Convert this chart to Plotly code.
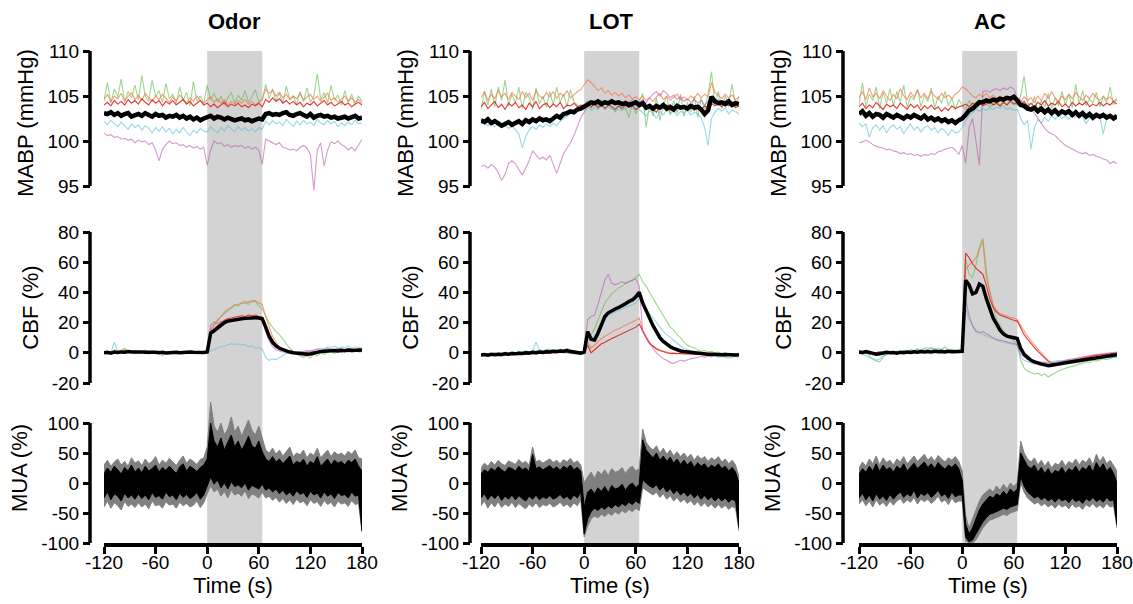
import plotly.graph_objects as go

# time grid (s)
T = list(range(-120, 181, 4))
X_TICKS = [-120, -60, 0, 60, 120, 180]
TITLES = ["Odor", "LOT", "AC"]
STIM_ON, STIM_OFF = 0, 64

# ---------------- Odor ----------------
odor_mabp_mean = [103.1,103.0,103.2,102.9,103.1,102.8,103.0,103.1,102.7,102.9,
                  103.0,102.8,103.1,102.9,102.7,103.0,102.8,102.9,102.6,102.8,
                  102.7,102.9,102.6,102.8,102.5,102.7,102.4,102.6,102.3,102.5,
                  102.6,102.8,102.5,102.7,102.6,102.4,102.6,102.5,102.3,102.4,
                  102.5,102.3,102.4,102.2,102.3,102.5,102.4,103.0,103.1,102.9,
                  103.0,102.9,103.1,103.2,102.9,102.8,103.0,103.1,102.9,102.7,
                  103.0,102.6,102.8,102.9,102.7,102.8,102.6,102.7,102.5,102.6,
                  102.7,102.5,102.6,102.8,102.5,102.6]
odor_mabp_red = [104.0,104.3,103.9,104.5,104.1,104.4,104.0,104.6,104.2,104.5,
                 104.1,104.7,104.3,104.0,104.6,104.2,104.5,103.9,104.4,104.1,
                 104.5,104.0,104.3,104.6,104.1,104.4,103.9,104.2,104.5,104.0,
                 104.2,103.8,104.1,103.7,104.0,104.3,103.8,104.1,103.9,104.2,
                 103.8,104.0,103.7,104.1,103.9,104.2,103.8,104.6,104.3,104.8,
                 104.4,104.7,104.2,104.5,104.1,104.4,104.0,104.3,103.8,104.2,
                 104.0,104.4,103.9,104.2,104.5,104.0,104.3,103.9,104.1,104.4,
                 104.0,104.2,103.8,104.1,104.3,104.0]
odor_mabp_orange = [104.6,105.2,104.4,105.0,104.7,105.3,104.5,104.9,105.4,104.6,
                    105.1,104.5,105.3,104.8,104.4,105.0,104.6,105.2,104.7,104.3,
                    104.9,104.5,105.1,104.6,104.2,104.8,104.4,105.0,104.5,104.2,
                    104.5,104.9,104.3,104.7,104.2,104.6,104.0,104.4,104.1,104.5,
                    104.2,104.6,104.1,104.4,104.0,104.3,104.6,105.8,105.3,105.6,
                    105.0,105.4,104.8,105.2,104.6,105.0,104.7,105.3,104.5,104.9,
                    105.2,104.6,105.0,104.4,104.9,105.3,104.5,104.8,104.3,104.7,
                    105.0,104.4,104.8,104.3,104.6,104.2]
odor_mabp_green = [104.5,106.5,104.2,105.8,104.9,106.9,104.3,105.5,104.8,106.2,
                   104.6,107.3,105.0,104.4,106.8,104.9,105.6,104.3,106.4,104.7,
                   105.2,104.1,106.0,104.5,105.4,103.9,106.6,104.4,105.0,104.2,
                   106.2,104.6,105.3,104.3,105.0,104.0,104.8,105.4,104.2,105.1,
                   104.5,105.6,104.3,104.9,105.7,104.4,104.6,106.3,104.7,105.8,
                   104.5,105.3,104.2,106.1,104.6,105.0,104.1,105.5,104.4,105.9,
                   104.3,105.0,107.5,104.6,105.4,104.2,106.2,104.5,105.1,104.0,
                   105.6,104.3,105.2,104.0,105.0,104.4]
odor_mabp_cyan = [102.2,101.8,102.3,101.9,101.6,102.1,101.7,101.3,101.9,101.5,
                  101.8,101.2,101.7,101.4,100.9,101.5,101.1,101.6,101.0,101.4,
                  100.8,101.3,100.9,101.5,101.0,100.6,101.2,100.9,101.4,101.1,
                  101.0,101.6,101.2,100.9,101.5,101.1,101.7,101.3,101.0,101.6,
                  101.2,101.5,101.1,101.4,101.0,101.5,101.3,102.2,101.8,102.3,
                  101.9,102.1,101.7,102.4,102.0,101.6,102.2,101.8,102.3,101.9,
                  102.1,101.7,102.4,102.0,101.8,102.3,101.9,102.2,101.6,102.0,
                  101.7,102.1,101.8,102.3,101.9,102.0]
odor_mabp_pink = [100.9,100.6,100.7,100.4,100.5,100.2,100.3,100.1,100.2,99.8,
                  100.1,99.9,100.0,99.6,99.8,99.0,97.8,99.1,99.6,100.0,
                  99.7,99.8,99.5,99.6,99.3,99.5,99.2,99.4,99.1,99.3,
                  97.3,99.0,100.0,99.7,99.8,99.4,99.6,99.3,99.5,99.4,
                  99.5,99.2,99.4,99.1,99.3,99.0,97.4,100.2,100.0,99.8,
                  99.6,99.8,99.3,99.2,99.0,99.1,98.9,99.3,99.5,99.2,
                  98.5,94.5,99.0,99.8,97.2,99.0,99.9,99.7,100.0,99.6,
                  99.4,99.0,99.3,98.9,99.6,100.2]

odor_cbf_mean = [0.0,0.3,-0.2,0.5,0.2,0.6,0.4,0.8,0.5,0.7,
                 0.4,0.6,0.3,0.5,0.2,0.4,0.0,0.3,-0.1,0.2,
                 0.0,0.3,0.1,0.4,0.2,0.5,0.3,0.1,0.4,0.2,
                 0.5,13.0,14.5,16.5,18.5,20.0,21.0,21.5,22.0,22.3,
                 22.5,22.8,23.0,22.7,23.2,23.0,22.5,17.0,11.0,7.0,
                 4.5,3.0,2.0,1.2,0.5,0.0,-0.3,-0.5,-0.8,-1.0,
                 -0.8,-0.5,0.3,0.8,1.0,1.3,1.0,1.5,1.2,1.6,
                 1.4,1.8,1.5,1.7,2.0,1.8]
odor_cbf_orange = [0.5,-0.5,1.0,0.0,1.5,0.5,2.0,1.0,0.5,1.5,
                   0.0,1.0,-0.5,0.5,1.0,0.0,0.5,-0.5,0.5,0.0,
                   0.5,-0.5,0.5,0.0,1.0,0.0,-0.5,0.5,0.0,0.5,
                   1.0,15.0,18.0,21.0,24.0,26.0,28.0,30.0,31.5,32.0,
                   33.0,32.5,34.0,33.5,34.5,33.0,32.0,24.0,17.0,11.0,
                   7.0,4.0,2.5,1.5,0.5,0.0,-0.5,0.5,-1.0,0.0,
                   -0.5,0.5,1.0,0.0,1.5,0.5,1.0,2.0,0.5,1.5,
                   1.0,2.0,0.5,1.5,1.0,0.5]
odor_cbf_green = [0.0,1.0,-0.5,2.0,0.5,1.5,3.0,0.5,1.5,-0.5,
                  1.0,0.0,2.0,-1.0,0.5,-0.5,1.0,-2.0,0.0,0.5,
                  -0.5,1.0,0.0,0.5,-0.5,1.0,0.0,-0.5,0.5,0.0,
                  1.0,15.0,19.0,22.0,24.0,27.0,29.0,30.0,32.0,31.0,
                  33.0,34.0,32.0,35.0,34.0,31.0,29.0,24.0,20.0,17.0,
                  14.0,12.0,9.0,6.0,3.0,1.0,-1.0,-2.0,-3.0,-2.0,
                  -3.5,-1.0,-2.0,0.0,-1.0,0.5,1.0,-0.5,1.0,0.0,
                  1.5,0.5,1.0,2.0,0.5,1.0]
odor_cbf_red = [0.3,0.8,0.0,1.0,0.5,0.2,1.0,0.6,0.3,0.8,
                0.5,0.2,0.7,0.0,0.4,0.8,0.2,0.5,0.0,0.3,
                0.6,0.1,0.4,0.0,0.5,0.2,0.6,0.0,0.3,0.5,
                1.0,14.0,16.0,18.0,20.0,21.5,22.5,23.0,23.5,24.0,
                24.5,24.0,25.0,24.5,25.0,24.0,23.5,16.0,10.0,6.0,
                4.0,2.5,1.5,1.0,0.5,0.0,0.2,-0.3,0.0,0.3,
                0.5,0.8,1.0,0.6,1.2,0.9,1.5,1.0,1.3,1.8,
                1.5,2.0,1.6,1.9,2.2,1.7]
odor_cbf_pink = [0.0,0.5,0.2,0.6,0.3,0.8,0.5,0.2,0.6,0.4,
                 0.1,0.5,0.3,0.0,0.4,0.2,0.6,0.3,0.0,0.4,
                 0.2,0.5,0.0,0.3,0.6,0.2,0.4,0.0,0.3,0.5,
                 1.0,18.0,20.5,19.0,21.0,20.0,22.0,21.5,22.5,22.0,
                 23.0,22.5,23.5,22.0,23.0,22.5,22.0,14.0,8.0,4.0,
                 2.0,1.0,0.5,0.0,0.3,-0.2,0.0,0.5,1.0,1.5,
                 1.0,2.0,2.5,1.5,2.0,3.0,2.5,2.0,3.0,2.5,
                 2.0,3.0,2.5,2.0,2.8,2.2]
odor_cbf_cyan = [0.5,-1.0,0.0,7.0,0.5,-0.5,1.0,0.0,0.5,-0.5,
                 0.0,0.5,-0.5,1.0,0.0,0.5,-0.5,0.0,0.5,0.0,
                 -0.5,0.5,0.0,0.5,-0.5,0.0,0.5,-0.5,0.0,0.5,
                 0.5,1.5,2.5,3.0,4.0,4.5,5.0,6.0,5.5,6.0,
                 5.0,5.5,4.0,4.5,3.0,3.5,2.5,-3.0,-5.0,-4.0,
                 -4.5,-3.0,-1.5,-0.5,0.0,0.5,0.0,1.0,0.5,1.0,
                 1.5,2.0,2.5,3.0,2.5,4.0,3.5,4.5,3.0,4.0,
                 3.5,4.5,3.0,4.0,3.5,3.0]

odor_mua_sem_hi = [30,38,28,35,40,30,36,28,42,33,
                   37,29,40,32,36,44,30,38,33,41,
                   35,29,38,45,33,40,36,31,39,42,
                   60,135,95,85,100,80,90,110,85,95,
                   78,92,105,88,80,95,75,55,50,58,
                   48,55,45,52,60,44,50,47,55,42,
                   50,46,58,42,48,55,44,52,47,50,
                   45,53,48,55,42,40]
odor_mua_mean_hi = [15,25,18,28,22,15,26,20,30,18,
                    25,17,28,20,24,30,18,26,21,28,
                    22,16,27,32,20,28,24,19,26,30,
                    40,100,70,60,75,55,68,80,60,70,
                    55,65,78,62,58,70,52,40,36,44,
                    35,40,32,38,45,30,36,33,40,28,
                    36,32,44,28,34,40,30,38,33,36,
                    30,38,34,40,28,20]
odor_mua_mean_lo = [-25,-15,-28,-18,-22,-30,-17,-25,-20,-27,
                    -18,-26,-20,-28,-16,-24,-21,-27,-15,-23,
                    -20,-28,-17,-24,-19,-26,-22,-16,-27,-20,
                    -5,10,-2,5,-8,0,-10,2,-6,-3,
                    -8,0,-12,-4,-7,-10,-2,-12,-8,-15,
                    -10,-18,-12,-20,-15,-22,-13,-19,-16,-24,
                    -14,-20,-17,-25,-15,-22,-18,-26,-16,-21,
                    -19,-25,-15,-22,-20,-80]
odor_mua_sem_lo = [-40,-30,-42,-33,-38,-45,-31,-39,-35,-41,
                   -33,-40,-35,-43,-30,-38,-36,-42,-31,-37,
                   -35,-42,-32,-38,-34,-40,-37,-30,-41,-33,
                   -18,-5,-15,-10,-22,-14,-25,-12,-20,-17,
                   -22,-13,-26,-18,-21,-25,-15,-25,-22,-29,
                   -24,-32,-26,-34,-28,-36,-27,-33,-30,-38,
                   -28,-34,-31,-39,-29,-36,-32,-40,-30,-35,
                   -33,-39,-29,-36,-34,-82]

# ---------------- LOT ----------------
lot_mabp_mean = [102.3,102.1,102.4,102.0,102.2,101.9,101.7,101.9,102.1,101.8,
                 102.0,102.2,101.9,102.3,102.1,102.4,102.2,102.5,102.3,102.4,
                 102.2,102.5,102.8,102.6,103.0,103.1,103.3,103.2,103.5,103.6,
                 103.8,104.0,104.3,104.2,104.4,104.1,104.3,104.2,104.4,104.2,
                 104.3,104.1,104.2,104.0,104.2,104.3,104.0,104.2,103.7,103.9,
                 103.6,103.9,103.7,104.0,103.6,103.8,103.5,103.9,103.7,103.8,
                 103.6,103.9,103.7,103.8,103.5,103.0,103.4,104.9,104.4,104.2,
                 104.3,104.1,104.4,104.0,104.2,104.1]
lot_mabp_orange = [104.8,105.5,104.5,105.2,104.7,105.6,104.9,105.3,104.6,105.4,
                   105.0,104.6,105.5,104.8,105.3,104.5,105.6,105.0,104.7,105.4,
                   104.9,105.5,104.7,105.3,105.0,105.6,104.8,105.2,105.5,105.7,
                   106.2,106.8,106.5,106.0,105.6,105.9,105.3,105.6,105.1,105.4,
                   105.0,105.3,104.8,105.1,104.7,104.9,104.6,105.0,104.5,104.8,
                   104.4,104.9,105.3,104.6,105.0,104.5,104.8,105.2,104.6,104.9,
                   104.5,105.0,104.7,105.3,104.8,105.2,104.9,106.5,105.4,105.0,
                   104.7,105.2,104.8,105.1,104.6,104.9]
lot_mabp_red = [103.8,104.3,103.6,104.0,104.4,103.7,104.1,103.5,104.2,103.9,
                104.3,103.7,104.0,103.5,104.2,103.8,104.4,103.6,104.0,104.2,
                103.7,104.1,103.8,104.3,103.6,104.0,103.9,104.2,103.8,104.0,
                103.9,104.2,103.8,104.1,103.7,104.0,103.6,104.0,103.8,103.5,
                103.9,103.6,104.0,103.7,103.9,103.5,103.8,104.0,103.6,103.9,
                103.5,103.2,103.8,103.6,104.0,103.4,103.7,103.9,103.5,103.8,
                103.6,103.9,103.4,103.8,103.5,103.9,103.7,104.2,103.9,104.1,
                103.8,104.2,103.9,104.1,103.7,103.9]
lot_mabp_green = [103.5,105.5,104.0,105.8,103.8,106.0,104.5,106.8,103.9,105.2,
                  104.2,106.0,103.6,105.4,104.8,103.5,105.9,104.1,105.0,103.7,
                  105.5,104.0,106.0,104.3,105.2,103.8,105.7,104.4,104.0,103.5,
                  103.8,104.5,103.6,104.2,103.9,104.6,103.5,104.1,103.8,103.2,
                  104.0,103.4,103.7,102.6,104.1,103.0,104.4,105.3,101.5,104.0,
                  102.8,104.8,102.3,104.0,105.0,102.9,104.5,103.1,105.2,102.7,
                  104.3,103.2,105.0,102.6,104.8,103.5,105.2,107.7,104.0,105.5,
                  103.6,105.0,104.2,106.3,103.8,105.0]
lot_mabp_cyan = [101.9,102.1,101.7,102.0,101.6,101.9,101.5,101.8,101.4,101.7,
                 101.3,100.8,99.2,100.5,101.2,101.6,101.3,101.8,101.5,101.9,
                 101.6,102.0,101.7,102.2,102.5,102.8,103.0,103.2,103.4,103.6,
                 103.5,103.8,103.4,103.7,103.5,103.9,103.6,103.8,103.5,103.7,
                 103.4,103.7,103.5,103.8,103.6,103.9,103.5,103.2,102.8,103.4,
                 103.1,102.5,103.3,102.9,103.5,103.0,103.4,102.8,103.3,103.1,
                 103.4,102.9,103.2,103.0,102.6,101.5,99.5,102.5,103.2,103.6,
                 103.3,103.7,103.0,103.5,103.2,103.0]
lot_mabp_pink = [97.2,97.3,97.0,97.4,97.1,96.5,95.6,96.3,97.5,97.8,
                 97.5,96.8,96.2,97.0,97.8,98.9,98.5,98.0,98.2,97.9,
                 98.4,97.5,96.4,97.5,98.6,99.2,99.8,100.6,101.5,102.6,
                 103.2,103.8,104.2,104.0,104.3,104.1,104.4,104.2,104.5,104.3,
                 104.4,104.2,104.5,104.3,104.6,104.4,104.3,104.6,104.2,104.8,
                 105.2,105.5,105.0,105.6,105.3,104.8,105.1,104.6,104.9,104.4,
                 104.7,104.3,104.6,104.2,104.5,104.0,104.4,104.8,104.3,104.6,
                 104.2,104.5,104.1,104.4,104.0,104.3]

lot_cbf_mean = [-1.5,-1.2,-1.6,-1.0,-1.3,-0.9,-1.1,-0.6,-0.9,-0.5,
                -0.7,-0.3,-0.5,0.0,-0.2,0.3,0.0,0.5,0.2,0.7,
                0.5,1.0,0.8,1.2,1.0,1.5,0.8,0.5,0.2,-0.2,
                0.5,14.0,9.0,8.5,13.0,19.0,24.0,26.5,28.0,29.0,
                30.0,31.0,32.5,34.0,35.0,37.0,40.0,33.0,28.0,22.0,
                18.0,14.0,10.0,7.5,5.5,4.0,3.0,2.0,1.2,0.8,
                0.5,0.2,0.0,-0.3,-0.5,-0.6,-0.9,-1.0,-1.2,-1.0,
                -1.3,-1.1,-1.4,-1.2,-1.5,-1.3]
lot_cbf_green = [-2.5,-1.5,-0.5,-1.0,0.0,-1.5,-2.0,-0.5,-1.0,0.0,
                 -1.0,0.5,-0.5,1.0,0.0,1.5,0.5,2.0,1.0,2.5,
                 1.5,2.0,1.0,2.5,1.5,3.0,2.0,1.0,0.5,0.0,
                 1.0,10.0,12.0,16.0,22.0,28.0,33.0,36.0,39.0,41.0,
                 43.0,44.0,46.0,47.0,48.0,50.0,52.0,47.0,44.0,40.0,
                 36.0,32.0,28.0,24.0,20.0,17.0,15.0,12.0,10.0,7.0,
                 5.0,4.0,2.5,2.0,1.0,1.5,0.5,1.0,0.0,0.5,
                 -0.5,0.0,-1.0,-0.5,-1.0,-1.5]
lot_cbf_pink = [-1.0,-1.5,-0.8,-1.2,-0.5,-1.0,-1.4,-0.6,-1.0,-0.3,
                -0.8,-0.2,-0.5,0.3,0.0,0.5,0.2,0.8,0.5,1.0,
                0.6,1.2,0.8,1.5,1.0,0.7,0.4,0.0,-0.3,-0.5,
                0.5,22.0,24.0,25.0,32.0,40.0,48.0,52.0,46.0,45.0,
                46.0,47.0,46.0,47.0,48.0,49.0,44.0,14.0,10.0,6.0,
                3.0,0.0,-2.0,-4.0,-5.0,-6.5,-7.0,-6.0,-5.0,-5.5,
                -4.5,-4.0,-3.5,-3.0,-2.5,-3.0,-2.0,-2.5,-1.5,-2.0,
                -1.5,-2.0,-1.0,-1.5,-1.0,-1.5]
lot_cbf_cyan = [-1.0,-0.5,-1.2,-0.3,-0.8,0.0,-0.5,0.5,-0.2,0.8,
                0.0,1.0,0.3,1.5,0.5,1.5,7.0,2.0,1.0,1.5,
                2.5,1.0,1.5,0.5,1.0,0.0,-0.5,-1.0,-0.5,0.0,
                0.5,10.0,9.0,11.0,15.0,19.0,22.0,25.0,26.0,27.0,
                28.0,29.0,30.0,31.0,32.0,33.0,36.0,32.0,29.0,26.0,
                23.0,20.0,17.0,14.0,12.0,10.0,8.0,6.0,4.5,3.0,
                2.0,1.0,0.5,-0.5,-1.0,-1.5,-2.0,-2.5,-2.0,-3.0,
                -2.5,-3.0,-3.5,-3.0,-2.5,-3.0]
lot_cbf_red = [-1.5,-1.0,-1.8,-1.2,-0.8,-1.5,-1.0,-1.3,-0.7,-1.1,
               -0.9,-1.2,-0.5,-0.8,-1.0,-0.4,-0.7,-0.2,-0.5,0.0,
               -0.3,0.2,-0.1,0.4,0.0,0.3,-0.2,0.1,-0.4,-0.1,
               0.5,5.0,0.0,2.0,4.0,6.0,7.0,8.5,9.5,10.5,
               11.5,12.5,13.5,14.5,15.5,17.0,19.0,14.0,10.0,6.0,
               4.0,2.5,1.5,0.5,0.0,-0.5,-0.2,-0.6,-0.3,-0.8,
               -0.5,-1.0,-0.7,-1.2,-0.9,-1.4,-1.0,-1.5,-1.2,-1.6,
               -1.3,-1.7,-1.4,-1.8,-1.5,-1.6]
lot_cbf_orange = [-1.0,-1.4,-0.6,-1.1,-0.4,-0.9,-1.2,-0.5,-0.8,-0.2,
                  -0.6,0.0,-0.4,0.2,-0.3,0.4,0.1,0.6,0.2,0.5,
                  0.1,0.6,0.3,0.8,0.4,0.6,0.2,0.0,-0.3,-0.2,
                  0.5,7.0,3.0,5.0,7.5,9.5,11.0,12.5,14.0,15.0,
                  16.0,17.0,18.0,19.0,20.0,21.5,23.0,15.0,11.0,7.0,
                  4.5,3.0,1.5,1.0,0.5,0.0,-0.5,-0.3,-0.8,-0.5,
                  -1.0,-0.6,-1.1,-0.8,-1.3,-0.9,-1.4,-1.1,-1.5,-1.2,
                  -1.6,-1.3,-1.7,-1.4,-1.2,-1.5]

lot_mua_sem_hi = [25,33,28,36,30,38,32,29,37,34,
                  31,39,33,36,30,60,35,38,33,37,
                  40,34,38,32,39,35,41,33,37,30,
                  0,10,18,8,20,14,22,12,24,18,
                  20,26,16,24,28,20,24,90,68,60,
                  55,62,50,58,48,55,45,52,44,50,
                  42,48,38,46,40,44,36,42,38,44,
                  35,40,32,38,30,10]
lot_mua_mean_hi = [15,22,18,25,20,27,22,18,26,24,
                   20,28,22,25,19,48,24,27,22,26,
                   29,23,27,21,28,24,30,22,26,20,
                   -40,-15,-10,-18,-8,-14,-6,-16,-4,-10,
                   -8,-2,-12,-4,0,-8,-2,72,55,48,
                   42,50,38,45,36,43,33,40,31,38,
                   30,36,26,34,28,32,24,30,26,32,
                   24,28,20,26,18,0]
lot_mua_mean_lo = [-25,-18,-28,-20,-26,-19,-29,-22,-27,-20,
                   -28,-21,-26,-30,-22,-27,-20,-28,-23,-26,
                   -21,-27,-24,-19,-26,-22,-28,-20,-25,-15,
                   -85,-60,-48,-42,-46,-40,-44,-38,-42,-36,
                   -40,-34,-38,-32,-36,-30,-34,5,0,-5,
                   -8,-3,-12,-6,-15,-9,-18,-12,-20,-15,
                   -22,-17,-25,-19,-27,-21,-28,-23,-30,-24,
                   -30,-25,-32,-27,-30,-75]
lot_mua_sem_lo = [-38,-30,-42,-33,-40,-31,-41,-35,-39,-32,
                  -41,-34,-39,-43,-35,-40,-33,-41,-36,-38,
                  -34,-40,-37,-32,-39,-35,-41,-33,-38,-28,
                  -90,-72,-60,-55,-58,-52,-56,-50,-54,-48,
                  -52,-46,-50,-44,-48,-42,-46,-8,-12,-16,
                  -20,-15,-24,-18,-27,-21,-30,-24,-32,-27,
                  -34,-29,-37,-31,-39,-33,-40,-35,-42,-36,
                  -42,-37,-44,-39,-42,-80]

# ---------------- AC ----------------
ac_mabp_mean = [103.0,103.3,102.8,103.1,102.7,103.0,102.9,102.6,103.0,102.8,
                102.6,102.9,102.7,102.5,102.8,102.6,102.9,102.7,102.5,102.8,
                102.4,102.6,102.3,102.5,102.2,102.4,102.1,102.3,102.0,102.3,
                102.5,102.9,103.4,103.6,104.0,104.3,104.3,104.5,104.4,104.6,
                104.5,104.7,104.6,104.8,104.7,104.9,104.5,104.0,103.9,103.6,
                103.5,103.7,103.3,103.6,103.2,103.5,103.1,103.4,103.0,103.3,
                103.1,103.3,102.9,103.2,102.8,103.1,102.7,103.0,102.6,102.9,
                102.7,102.9,102.6,102.8,102.5,102.8]
ac_mabp_pink = [99.8,99.9,100.1,99.9,99.6,99.4,99.3,99.2,99.0,99.1,
                98.9,98.8,98.6,98.7,98.5,98.6,98.4,98.5,98.3,98.5,
                98.4,98.6,98.5,98.8,98.9,99.1,99.2,99.3,99.0,98.5,
                99.5,97.5,101.5,102.5,100.0,97.3,105.5,105.6,105.4,105.7,
                105.8,105.6,105.9,105.7,106.0,105.8,104.8,104.5,104.3,104.0,
                103.6,103.1,102.5,101.9,101.4,101.0,100.8,100.6,100.2,99.8,
                99.5,99.3,99.1,98.9,98.7,98.6,98.7,98.4,98.5,98.3,
                98.2,98.0,97.9,97.5,97.7,97.5]
ac_mabp_cyan = [102.0,101.6,101.9,100.4,101.5,101.8,101.2,101.7,100.9,101.5,
                101.8,101.3,101.6,100.8,101.4,101.9,101.2,101.6,101.0,101.5,
                101.7,101.2,101.5,100.9,101.4,101.1,100.6,101.3,100.9,101.0,
                101.5,102.3,102.8,103.2,103.5,103.3,103.6,103.4,103.7,103.5,
                103.8,103.6,103.9,103.5,103.7,103.4,103.5,102.5,101.8,102.3,
                99.1,101.5,102.4,102.0,102.6,102.2,102.8,102.4,102.9,102.5,
                102.8,102.4,102.9,102.6,103.0,102.7,101.9,102.5,103.0,102.6,
                102.8,100.8,102.5,102.9,102.6,102.4]
ac_mabp_red = [103.8,104.2,103.6,104.0,103.7,104.3,103.9,103.5,104.1,103.8,
               104.0,103.6,104.2,103.8,103.5,104.1,103.7,104.0,103.4,103.9,
               103.6,104.0,103.5,103.8,103.3,103.7,103.4,103.9,103.6,103.8,
               103.9,104.1,103.8,104.2,104.0,104.3,103.9,104.1,104.4,104.0,
               104.2,103.9,104.3,104.0,104.4,104.1,104.3,104.0,104.4,103.9,
               104.2,103.8,104.3,104.0,104.5,103.9,104.2,104.0,104.4,103.8,
               104.1,103.7,104.3,103.9,104.2,104.0,104.4,103.8,104.1,103.9,
               104.3,103.9,104.2,104.0,104.4,104.1]
ac_mabp_orange = [104.8,105.5,104.6,105.9,104.9,105.3,104.7,105.6,105.0,104.5,
                  105.2,104.7,105.8,105.0,104.6,105.4,104.9,105.6,104.8,105.3,
                  104.7,105.5,105.0,104.6,105.3,104.8,105.1,104.7,105.2,105.5,
                  106.0,105.8,105.4,105.0,104.8,105.2,104.9,105.3,104.8,105.1,
                  104.7,105.0,104.6,104.9,104.5,104.8,104.6,104.4,104.9,104.5,
                  104.8,104.3,105.0,104.5,105.3,104.7,105.5,104.8,104.4,105.0,
                  104.6,105.2,104.7,105.4,104.9,104.5,105.1,104.7,105.3,104.8,
                  104.5,105.0,104.6,104.9,104.4,104.7]
ac_mabp_green = [104.0,106.5,103.8,105.2,104.5,106.0,103.6,105.4,104.2,105.8,
                 103.9,105.5,104.3,106.2,103.7,105.0,104.6,105.8,103.8,105.1,
                 104.4,105.9,103.6,105.0,104.2,105.5,103.9,104.8,103.5,104.6,
                 104.0,103.5,104.5,103.8,104.3,104.6,104.0,104.4,103.8,104.2,
                 104.5,103.9,104.3,104.0,104.6,104.2,104.0,105.0,107.2,104.3,
                 103.5,105.0,103.2,104.5,103.8,105.3,103.6,104.8,103.9,105.5,
                 104.0,105.2,103.7,106.3,104.1,105.6,103.9,104.7,104.2,105.4,
                 103.8,104.9,104.3,106.0,104.0,104.6]

ac_cbf_mean = [0.5,0.2,0.8,0.0,-0.5,-1.0,-0.6,-0.2,0.3,0.0,
               0.2,-0.2,0.4,0.1,0.5,0.2,0.7,0.4,0.8,0.5,
               0.9,0.6,1.0,0.7,0.9,0.5,1.0,0.7,0.9,0.6,
               1.0,48.0,45.0,39.0,40.0,45.5,44.0,36.0,29.0,23.0,
               19.0,15.0,12.5,11.0,10.5,10.0,9.5,3.0,-1.0,-3.0,
               -5.0,-6.0,-7.0,-7.5,-8.0,-8.5,-8.3,-8.0,-7.6,-7.2,
               -6.8,-6.3,-5.9,-5.5,-5.0,-4.6,-4.3,-4.0,-3.6,-3.3,
               -3.0,-2.6,-2.3,-2.0,-1.6,-1.2]
ac_cbf_green = [2.0,-1.0,1.0,-2.0,-4.0,-5.5,-6.0,-3.0,-1.0,0.5,
                -0.5,1.0,0.0,1.5,0.5,2.0,1.0,2.5,1.0,3.0,
                2.0,3.5,1.5,3.0,2.0,4.0,1.5,2.5,1.0,2.0,
                2.0,62.0,52.0,50.0,58.0,70.0,76.0,55.0,40.0,30.0,
                22.0,18.0,14.0,12.0,10.0,8.0,5.0,-5.0,-10.0,-12.0,
                -13.0,-14.0,-13.5,-15.0,-14.0,-16.0,-14.5,-13.0,-12.0,-11.0,
                -10.5,-9.5,-9.0,-8.0,-7.5,-7.0,-6.0,-6.5,-5.0,-5.5,
                -4.5,-4.0,-4.5,-3.5,-3.0,-2.5]
ac_cbf_orange = [0.0,-0.5,0.5,-1.0,0.0,-0.8,0.3,-0.5,0.5,0.0,
                 0.5,-0.3,0.8,0.0,0.6,-0.2,0.9,0.3,1.0,0.4,
                 1.2,0.5,1.0,0.3,0.8,0.2,0.6,0.0,0.5,0.3,
                 1.0,55.0,58.0,60.0,63.0,68.0,74.0,50.0,40.0,32.0,
                 28.0,26.0,25.0,24.0,23.5,23.0,22.0,18.0,14.0,11.0,
                 8.0,5.0,2.5,0.0,-2.5,-5.0,-6.5,-7.0,-6.8,-6.0,
                 -5.5,-5.0,-4.5,-4.0,-3.5,-3.0,-2.8,-2.5,-2.0,-1.5,
                 -1.0,-1.5,-0.8,-1.0,-0.5,0.0]
ac_cbf_red = [0.5,0.0,-0.5,0.3,-0.3,0.2,0.6,0.0,0.4,-0.2,
              0.3,0.8,0.1,0.5,-0.1,0.6,0.2,0.9,0.3,0.7,
              0.2,0.8,0.4,1.0,0.5,0.9,0.3,0.7,0.2,0.5,
              1.0,66.0,63.0,59.0,56.0,54.0,52.0,45.0,36.0,30.0,
              27.0,25.0,24.0,23.0,22.0,21.5,21.0,16.0,12.0,9.0,
              6.0,3.5,1.0,-1.5,-3.5,-5.5,-7.0,-7.5,-7.0,-6.5,
              -6.0,-5.5,-5.0,-4.5,-4.0,-3.5,-3.0,-2.5,-2.0,-1.8,
              -1.5,-1.2,-1.0,-0.8,-0.5,0.0]
ac_cbf_pink = [0.0,0.5,-0.3,0.2,-0.5,-1.0,-0.8,-0.3,0.2,0.0,
               0.3,-0.2,0.5,0.0,0.4,-0.1,0.6,0.2,0.5,0.0,
               0.4,0.1,0.6,0.2,0.5,0.0,0.4,0.1,0.3,0.0,
               1.0,35.0,25.0,18.0,14.0,13.5,14.0,12.5,11.0,10.0,
               9.0,8.5,7.5,7.0,6.5,6.0,5.5,-1.0,-3.0,-4.5,
               -5.0,-5.5,-6.0,-6.5,-7.0,-7.0,-6.8,-6.5,-6.0,-5.5,
               -5.0,-4.5,-4.0,-3.5,-3.0,-2.5,-2.0,-1.5,-1.2,-1.0,
               -0.8,-0.5,-0.3,0.0,0.2,0.5]
ac_cbf_cyan = [0.0,-1.0,-2.0,-3.0,-4.5,-5.0,-4.0,-2.0,-1.0,0.0,
               0.5,1.0,0.5,1.5,1.0,2.0,1.5,2.5,2.0,3.0,
               3.5,2.5,3.0,2.0,2.5,1.5,2.0,1.0,1.5,0.5,
               1.0,30.0,22.0,18.0,15.0,13.0,12.0,11.0,10.0,9.0,
               8.0,7.5,7.0,6.5,6.0,5.5,5.0,-3.0,-5.0,-6.0,
               -7.0,-7.5,-7.0,-6.5,-6.0,-6.5,-6.0,-5.5,-5.0,-5.5,
               -5.0,-4.5,-5.0,-4.5,-4.0,-4.5,-4.0,-3.5,-4.0,-3.5,
               -3.0,-3.5,-3.0,-3.5,-3.0,-3.5]

ac_mua_sem_hi = [25,35,28,40,32,45,30,42,34,38,
                 30,40,35,44,32,38,45,36,42,48,
                 38,44,36,46,40,35,42,38,44,36,
                 20,-55,-75,-60,-45,-30,-20,-15,-10,-15,
                 -5,-12,-2,-10,0,-6,0,70,50,40,
                 35,42,30,38,28,36,25,33,30,38,
                 28,36,32,40,30,38,34,42,30,48,
                 36,44,32,38,28,20]
ac_mua_mean_hi = [15,24,18,28,20,32,19,30,22,26,
                  18,28,23,32,20,26,33,24,30,35,
                  26,32,24,34,28,23,30,26,32,24,
                  5,-68,-85,-75,-60,-45,-35,-28,-22,-25,
                  -18,-22,-14,-20,-10,-16,-10,50,38,28,
                  24,30,18,26,16,24,14,21,18,26,
                  16,24,20,28,18,26,22,30,18,34,
                  24,32,20,26,16,0]
ac_mua_mean_lo = [-25,-17,-28,-20,-30,-18,-27,-22,-29,-19,
                  -27,-20,-15,-24,-18,-22,-12,-25,-17,-21,
                  -16,-24,-19,-12,-22,-18,-26,-15,-23,-20,
                  -20,-90,-98,-95,-85,-75,-65,-58,-52,-50,
                  -48,-45,-42,-44,-40,-38,-36,10,-5,-15,
                  -20,-25,-22,-28,-24,-30,-26,-32,-25,-30,
                  -27,-33,-25,-31,-28,-34,-26,-30,-24,-31,
                  -27,-32,-24,-30,-28,-70]
ac_mua_sem_lo = [-35,-28,-38,-30,-40,-28,-37,-32,-39,-30,
                 -37,-30,-26,-34,-28,-32,-24,-35,-27,-31,
                 -27,-34,-29,-22,-32,-28,-36,-25,-33,-30,
                 -30,-97,-100,-100,-95,-85,-75,-68,-62,-60,
                 -58,-55,-52,-54,-50,-48,-46,0,-15,-25,
                 -30,-35,-32,-38,-34,-40,-36,-42,-35,-40,
                 -37,-43,-35,-41,-38,-44,-36,-40,-34,-41,
                 -37,-42,-34,-40,-38,-75]

# ---------------- styling ----------------
W, H = 1133, 604
COL_GREEN = "rgba(95,185,70,0.6)"
COL_ORANGE = "rgba(245,115,70,0.7)"
COL_RED = "rgba(225,20,20,0.85)"
COL_CYAN = "rgba(85,190,215,0.6)"
COL_PINK = "rgba(185,85,175,0.6)"
COL_SEM = "rgb(128,128,128)"

COL_AXIS_X = [90, 470, 843]
COL_DATA_X = [(104, 362), (481, 739), (859, 1117)]
ROWS = [
    dict(top=51, bot=195, rng=[94, 110], line=(95, 110), ticks=[95, 100, 105, 110], title="MABP (mmHg)"),
    dict(top=232, bot=383, rng=[-20, 80], line=(-20, 80), ticks=[-20, 0, 20, 40, 60, 80], title="CBF (%)"),
    dict(top=393, bot=543, rng=[-100, 150], line=(-100, 100), ticks=[-100, -50, 0, 50, 100], title="MUA (%)"),
]

panels = {
    (0, 0): [(odor_mabp_green, COL_GREEN), (odor_mabp_orange, COL_ORANGE), (odor_mabp_red, COL_RED),
             (odor_mabp_cyan, COL_CYAN), (odor_mabp_pink, COL_PINK), (odor_mabp_mean, "black")],
    (0, 1): [(lot_mabp_green, COL_GREEN), (lot_mabp_orange, COL_ORANGE), (lot_mabp_red, COL_RED),
             (lot_mabp_cyan, COL_CYAN), (lot_mabp_pink, COL_PINK), (lot_mabp_mean, "black")],
    (0, 2): [(ac_mabp_green, COL_GREEN), (ac_mabp_orange, COL_ORANGE), (ac_mabp_red, COL_RED),
             (ac_mabp_cyan, COL_CYAN), (ac_mabp_pink, COL_PINK), (ac_mabp_mean, "black")],
    (1, 0): [(odor_cbf_green, COL_GREEN), (odor_cbf_orange, COL_ORANGE), (odor_cbf_red, COL_RED),
             (odor_cbf_cyan, COL_CYAN), (odor_cbf_pink, COL_PINK), (odor_cbf_mean, "black")],
    (1, 1): [(lot_cbf_green, COL_GREEN), (lot_cbf_orange, COL_ORANGE), (lot_cbf_red, COL_RED),
             (lot_cbf_cyan, COL_CYAN), (lot_cbf_pink, COL_PINK), (lot_cbf_mean, "black")],
    (1, 2): [(ac_cbf_green, COL_GREEN), (ac_cbf_orange, COL_ORANGE), (ac_cbf_red, COL_RED),
             (ac_cbf_cyan, COL_CYAN), (ac_cbf_pink, COL_PINK), (ac_cbf_mean, "black")],
}
mua = {
    0: (odor_mua_sem_lo, odor_mua_sem_hi, odor_mua_mean_lo, odor_mua_mean_hi),
    1: (lot_mua_sem_lo, lot_mua_sem_hi, lot_mua_mean_lo, lot_mua_mean_hi),
    2: (ac_mua_sem_lo, ac_mua_sem_hi, ac_mua_mean_lo, ac_mua_mean_hi),
}

FONT = "Liberation Sans, Arial, sans-serif"
TICK_FONT = 19
fig = go.Figure()
layout = dict(width=W, height=H, margin=dict(l=0, r=0, t=0, b=0, autoexpand=False),
              paper_bgcolor="white", plot_bgcolor="white", showlegend=False,
              font=dict(family=FONT, color="black", size=TICK_FONT))
shapes, annotations = [], []


def ax_name(r, c):
    i = r * 3 + c + 1
    return ("" if i == 1 else str(i))


for r in range(3):
    R = ROWS[r]
    for c in range(3):
        s = ax_name(r, c)
        xa, ya = "x" + s, "y" + s
        x0p, x1p = COL_DATA_X[c]
        layout["xaxis" + s] = dict(
            domain=[x0p / W, x1p / W], range=[-120, 180], anchor=ya,
            visible=(r == 2), showgrid=False, zeroline=False, automargin=False,
            showline=True, linecolor="black", linewidth=3.5,
            ticks="outside", ticklen=7, tickwidth=3, tickcolor="black",
            ticklabelstandoff=-8,
            tickvals=X_TICKS, ticktext=[str(v) for v in X_TICKS], tickfont=dict(size=TICK_FONT),
            title=dict(text="Time (s)", font=dict(size=22), standoff=3),
        )
        layout["yaxis" + s] = dict(
            domain=[1 - R["bot"] / H, 1 - R["top"] / H], range=R["rng"],
            anchor="free", position=COL_AXIS_X[c] / W, automargin=False,
            showgrid=False, zeroline=False, showline=False,
            ticks="outside", ticklen=7, tickwidth=3, tickcolor="black",
            tickvals=R["ticks"], ticktext=[str(v) for v in R["ticks"]], tickfont=dict(size=TICK_FONT),
            title=dict(text=R["title"], font=dict(size=22), standoff=6),
        )
        shapes.append(dict(type="line", xref="paper", yref=ya,
                           x0=COL_AXIS_X[c] / W, x1=COL_AXIS_X[c] / W,
                           y0=R["line"][0], y1=R["line"][1],
                           line=dict(color="black", width=3.5)))
        if r < 2:
            for y, col in panels[(r, c)]:
                is_mean = col == "black"
                fig.add_trace(go.Scatter(
                    x=T, y=y, mode="lines", xaxis=xa, yaxis=ya, hoverinfo="skip",
                    line=dict(color=col, width=(4.5 if r == 0 else 3.5) if is_mean else 1.1)))
        else:
            slo, shi, mlo, mhi = mua[c]
            fig.add_trace(go.Scatter(x=T, y=slo, mode="lines", xaxis=xa, yaxis=ya,
                                     line=dict(color=COL_SEM, width=1), hoverinfo="skip"))
            fig.add_trace(go.Scatter(x=T, y=shi, mode="lines", xaxis=xa, yaxis=ya, fill="tonexty",
                                     fillcolor=COL_SEM, line=dict(color=COL_SEM, width=1), hoverinfo="skip"))
            fig.add_trace(go.Scatter(x=T, y=mlo, mode="lines", xaxis=xa, yaxis=ya,
                                     line=dict(color="black", width=1), hoverinfo="skip"))
            fig.add_trace(go.Scatter(x=T, y=mhi, mode="lines", xaxis=xa, yaxis=ya, fill="tonexty",
                                     fillcolor="black", line=dict(color="black", width=1), hoverinfo="skip"))

for c in range(3):
    s = ax_name(2, c)
    shapes.append(dict(type="rect", xref="x" + s, yref="paper", x0=STIM_ON, x1=STIM_OFF,
                       y0=1 - 543 / H, y1=1 - 51 / H, fillcolor="rgb(211,211,211)",
                       line=dict(width=0), layer="below"))
    x0p, x1p = COL_DATA_X[c]
    cx = x0p + (STIM_ON + 120 + (STIM_OFF - STIM_ON) / 2) / 300 * (x1p - x0p)
    annotations.append(dict(text="<b>%s</b>" % TITLES[c], xref="paper", yref="paper",
                            x=cx / W, y=1 - 22 / H, showarrow=False,
                            font=dict(size=22, family=FONT), xanchor="center", yanchor="middle"))

layout["shapes"] = shapes
layout["annotations"] = annotations
fig.update_layout(**layout)
fig.write_html("out.html", config={"displayModeBar": False},
               post_script="document.body.style.margin='0';document.body.style.overflow='hidden';")
